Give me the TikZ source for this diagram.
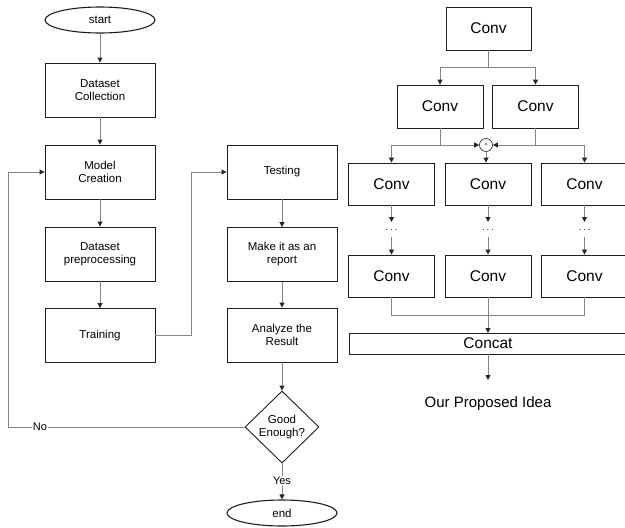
\documentclass[tikz,border=0pt]{standalone}
\usepackage{fontspec}
\setmainfont{Liberation Sans}
\usetikzlibrary{arrows.meta,shapes.geometric}
\definecolor{lnc}{HTML}{858585}
\definecolor{bdc}{HTML}{1E1E1E}
\begin{document}
\begin{tikzpicture}[x=1pt,y=-1pt,
  fbox/.style={draw=bdc,line width=0.9pt,minimum width=110pt,minimum height=54pt,align=center,font=\fontsize{11.5}{13}\selectfont,inner sep=1pt},
  term/.style={draw=bdc,line width=1.1pt,ellipse,minimum width=110pt,minimum height=26pt,inner sep=0pt,font=\fontsize{11.5}{13}\selectfont},
  cbox/.style={draw=bdc,line width=0.8pt,minimum width=86pt,minimum height=43pt,inner sep=0pt,font=\fontsize{15.5}{17}\selectfont},
  conn/.style={draw=lnc,line width=0.9pt},
  arr/.style={conn,-{Triangle[length=5pt,width=5pt,color=black!85]}},
  lbl/.style={fill=white,inner sep=1pt,font=\fontsize{11}{12}\selectfont}]
\useasboundingbox (0,0) rectangle (625,528);
\begin{scope}
\clip (0,0) rectangle (625,528);
% left flowchart
\node[term] (start) at (100,20) {start};
\node[fbox] (dc) at (100,90) {Dataset\\Collection};
\node[fbox] (mc) at (100,172) {Model\\Creation};
\node[fbox] (dp) at (100,254) {Dataset\\preprocessing};
\node[fbox] (tr) at (100,335.5) {Training};
\node[fbox] (te) at (282,172) {Testing};
\node[fbox] (mr) at (282,254.5) {Make it as an\\report};
\node[fbox] (ar) at (282,335) {Analyze the\\Result};
\node[draw=bdc,line width=0.9pt,diamond,minimum width=74pt,minimum height=72pt,inner sep=0pt,align=center,font=\fontsize{11.5}{13}\selectfont] (ge) at (282,427) {Good\\Enough?};
\node[term] (end) at (282,513) {end};
\coordinate (c1) at (8,427);
\coordinate (c2) at (8,172);
\coordinate (c3) at (191,335.5);
\coordinate (c4) at (191,172);
\draw[arr] (start) -- (dc);
\draw[arr] (dc) -- (mc);
\draw[arr] (mc) -- (dp);
\draw[arr] (dp) -- (tr);
\draw[arr] (tr.east) -- (c3) -- (c4) -- (te.west);
\draw[arr] (te) -- (mr);
\draw[arr] (mr) -- (ar);
\draw[arr] (ar) -- (ge);
\draw[arr] (ge.west) -- (c1) -- (c2) -- (mc.west);
\node[lbl] (no) at (40,427) {No};
\draw[arr] (ge.south) -- (end.north);
\node[lbl] (yes) at (282,481) {Yes};
% right diagram
\node[cbox,minimum width=85pt] (t) at (488.5,28.5) {Conv};
\node[cbox] (a1) at (440,106.5) {Conv};
\node[cbox] (a2) at (535.5,106.5) {Conv};
\node[cbox,minimum height=42pt] (b1) at (391.5,184) {Conv};
\node[cbox,minimum height=42pt] (b2) at (488,184) {Conv};
\node[cbox,minimum height=42pt] (b3) at (584.5,184) {Conv};
\node[cbox,minimum height=42pt] (d1) at (391.5,276) {Conv};
\node[cbox,minimum height=42pt] (d2) at (488,276) {Conv};
\node[cbox,minimum height=42pt] (d3) at (584.5,276) {Conv};
\node[draw=bdc,line width=0.8pt,minimum width=281pt,minimum height=21pt,inner sep=0pt,anchor=north west,font=\fontsize{15.5}{17}\selectfont] (cc) at (349,333) {};
\node[font=\fontsize{15.5}{17}\selectfont] (cct) at (488,343.5) {Concat};
\node[draw=bdc,line width=0.6pt,circle,minimum size=13pt,inner sep=0pt,font=\fontsize{6}{6}\selectfont] (plus) at (486,145) {+};
\node[font=\fontsize{15}{17}\selectfont] (idea) at (488,404) {Our Proposed Idea};
% dots
\node[font=\fontsize{10}{10}\selectfont,inner sep=0pt] (e1) at (391.5,230) {$\cdots$};
\node[font=\fontsize{10}{10}\selectfont,inner sep=0pt] (e2) at (488,230) {$\cdots$};
\node[font=\fontsize{10}{10}\selectfont,inner sep=0pt] (e3) at (584.5,230) {$\cdots$};
% connectors
\coordinate (s1) at (488.5,67);
\coordinate (s1l) at (440,67);
\coordinate (s1r) at (535.5,67);
\draw[conn] (t.south) -- (s1);
\draw[arr] (s1) -- (s1l) -- (a1.north);
\draw[arr] (s1) -- (s1r) -- (a2.north);
\coordinate (p1) at (440,145);
\coordinate (p2) at (535.5,145);
\coordinate (q1) at (391.5,145);
\coordinate (q3) at (584.5,145);
\draw[conn] (a1.south) -- (p1);
\draw[conn] (a2.south) -- (p2);
\draw[arr] (p1) -- (plus.west);
\draw[arr] (p2) -- (plus.east);
\draw[arr] (p1) -- (q1) -- (b1.north);
\draw[arr] (p2) -- (q3) -- (b3.north);
\draw[arr] (plus.south) -- (plus.south |- b2.north);
\coordinate (g1) at (391.5,222);
\coordinate (g2) at (488,222);
\coordinate (g3) at (584.5,222);
\draw[arr] (b1.south) -- (g1);
\draw[arr] (b2.south) -- (g2);
\draw[arr] (b3.south) -- (g3);
\coordinate (h1) at (391.5,237);
\coordinate (h2) at (488,237);
\coordinate (h3) at (584.5,237);
\draw[arr] (h1) -- (d1.north);
\draw[arr] (h2) -- (d2.north);
\draw[arr] (h3) -- (d3.north);
\coordinate (m1) at (391.5,315);
\coordinate (m3) at (584.5,315);
\draw[conn] (d1.south) -- (m1) -- (m3) -- (d3.south);
\draw[arr] (d2.south) -- (d2.south |- cc.north);
\draw[arr] (488,354) -- (idea.north |- 0,380);
\end{scope}
\end{tikzpicture}
\end{document}
